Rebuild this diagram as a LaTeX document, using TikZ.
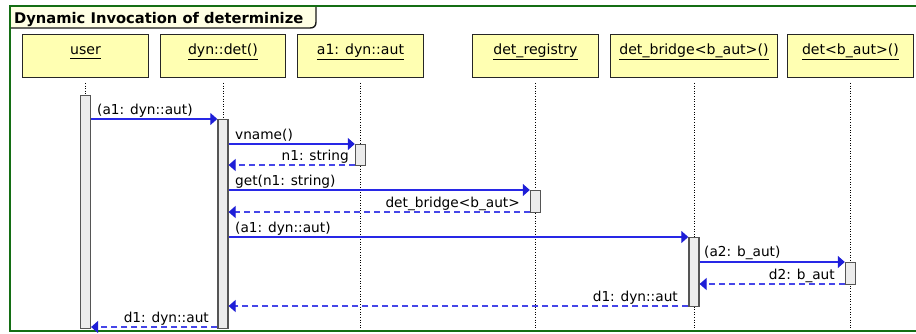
\documentclass[tikz,border=0pt]{standalone}
\usepackage{fontspec}
\setmainfont{DejaVu Sans}
\usetikzlibrary{arrows.meta}
\definecolor{framegreen}{RGB}{20,110,20}
\definecolor{boxfill}{RGB}{255,255,178}
\definecolor{tabfill}{RGB}{255,255,228}
\definecolor{barfill}{RGB}{236,236,236}
\definecolor{barline}{RGB}{85,85,85}
\definecolor{msgblue}{RGB}{40,40,230}
\definecolor{tipblue}{RGB}{30,30,215}
\definecolor{retblue}{RGB}{70,70,232}
\newcommand\ulname[1]{\underline{#1\vphantom{()}}}
\begin{document}
\begin{tikzpicture}[x=1pt,y=-1pt,
  lifebox/.style={draw=black!85, line width=0.9pt, fill=boxfill, minimum height=43pt, inner sep=0pt, anchor=north west},
  boxlabel/.style={font=\fontsize{14.1}{16}\selectfont, inner sep=0pt},
  lifeline/.style={draw=black, line width=0.9pt, dash pattern=on 1pt off 1.6pt},
  actbar/.style={draw=barline, line width=1.3pt, fill=barfill, minimum width=10pt, inner sep=0pt, anchor=north},
  msg/.style={draw=msgblue, line width=1.25pt, -{Triangle[length=7pt,width=12pt,fill=tipblue,color=tipblue]}},
  ret/.style={draw=retblue, line width=1.15pt, dash pattern=on 6pt off 4pt, -{Triangle[length=7pt,width=12pt,fill=tipblue,color=tipblue]}},
  lblw/.style={font=\fontsize{13.7}{16}\selectfont, inner sep=0pt, anchor=base west},
  lble/.style={font=\fontsize{13.7}{16}\selectfont, inner sep=0pt, anchor=base east},
  ]
\useasboundingbox (0,0) rectangle (916,333);
\clip (0,0) rectangle (916,333);
\fill[white] (0,0) rectangle (916,333);

% title tab
\fill[tabfill] (10,6) -- (316,6) -- (316,22) .. controls (316,26) and (314,28) .. (310,28) -- (10,28) -- cycle;
\draw[black!90, line width=1.4pt] (316,6) -- (316,22) .. controls (316,26) and (314,28) .. (310,28) -- (10,28);
\node[font=\fontsize{14.7}{17}\selectfont\bfseries, inner sep=0pt, anchor=base west] (title) at (14,23) {Dynamic Invocation of determinize};

% frame
\draw[framegreen, line width=2pt] (930,331) -- (10,331) -- (10,6) -- (930,6);

% lifeline boxes
\node[lifebox, minimum width=126pt] (b1) at (22,34) {};
\node[lifebox, minimum width=125pt] (b2) at (160,34) {};
\node[lifebox, minimum width=126pt] (b3) at (297,34) {};
\node[lifebox, minimum width=126pt] (b4) at (472,34) {};
\node[lifebox, minimum width=167pt] (b5) at (610,34) {};
\node[lifebox, minimum width=126pt] (b6) at (787,34) {};
\node[boxlabel] (t1) at ([yshift=-17.5pt]b1.north) {\ulname{user}};
\node[boxlabel] (t2) at ([yshift=-17.5pt]b2.north) {\ulname{dyn::det()}};
\node[boxlabel] (t3) at ([yshift=-17.5pt]b3.north) {\ulname{a1: dyn::aut}};
\node[boxlabel] (t4) at ([yshift=-17.5pt]b4.north) {\ulname{det\_registry}};
\node[boxlabel] (t5) at ([yshift=-17.5pt]b5.north) {\ulname{det\_bridge<b\_aut>()}};
\node[boxlabel] (t6) at ([yshift=-17.5pt]b6.north) {\ulname{det<b\_aut>()}};

% lifelines
\foreach \b in {b1,b2,b3,b4,b5,b6}
  \draw[lifeline] ([yshift=-5pt]\b.south) -- (\b.south |- 0,328);

% activation bars
\node[actbar, minimum height=233pt] (u1) at (b1.south |- 0,95) {};
\node[actbar, minimum height=209pt] (d1) at (b2.south |- 0,119) {};
\node[actbar, minimum height=21pt] (a1) at (b3.south |- 0,144) {};
\node[actbar, minimum height=22pt] (r1) at (b4.south |- 0,190) {};
\node[actbar, minimum height=69pt] (g1) at (b5.south |- 0,237) {};
\node[actbar, minimum height=22pt] (e1) at (b6.south |- 0,262) {};

% messages
\draw[msg] (u1.east |- 0,119) -- (d1.west |- 0,119);
\node[lblw] (l1) at (97,114) {(a1: dyn::aut)};
\draw[msg] (d1.east |- 0,144) -- (a1.west |- 0,144);
\node[lblw] (l2) at (235,139) {vname()};
\draw[ret] (a1.west |- 0,165) -- (d1.east |- 0,165);
\node[lble] (l3) at (349,160) {n1: string};
\draw[msg] (d1.east |- 0,190) -- (r1.west |- 0,190);
\node[lblw] (l4) at (235,185) {get(n1: string)};
\draw[ret] (r1.west |- 0,212) -- (d1.east |- 0,212);
\node[lble] (l5) at (520,207) {det\_bridge<b\_aut>};
\draw[msg] (d1.east |- 0,237) -- (g1.west |- 0,237);
\node[lblw] (l6) at (235,232) {(a1: dyn::aut)};
\draw[msg] (g1.east |- 0,262) -- (e1.west |- 0,262);
\node[lblw] (l7) at (704,256) {(a2: b\_aut)};
\draw[ret] (e1.west |- 0,284) -- (g1.east |- 0,284);
\node[lble] (l8) at (835,279) {d2: b\_aut};
\draw[ret] (g1.west |- 0,306) -- (d1.east |- 0,306);
\node[lble] (l9) at (678,301) {d1: dyn::aut};
\draw[ret] (d1.west |- 0,327) -- (u1.east |- 0,327);
\node[lble] (l10) at (209,322) {d1: dyn::aut};
\end{tikzpicture}
\end{document}
